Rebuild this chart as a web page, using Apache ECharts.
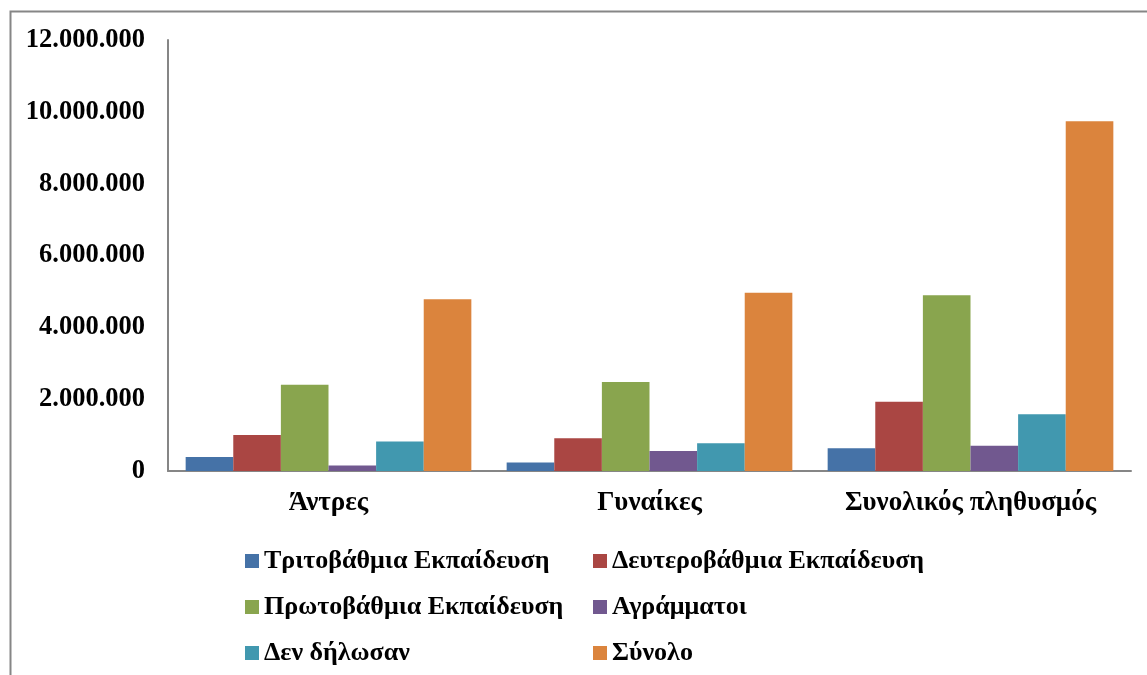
<!DOCTYPE html>
<html>
<head>
<meta charset="utf-8">
<script src="https://cdn.jsdelivr.net/npm/echarts@6/dist/echarts.min.js"></script>
<style>html,body{margin:0;padding:0;background:#fff}#c{width:1147px;height:675px}</style>
</head>
<body>
<div id="c"></div>
<script>
const categories = ['Άντρες', 'Γυναίκες', 'Συνολικός πληθυσμός'];
const seriesNames = ['Τριτοβάθμια Εκπαίδευση', 'Δευτεροβάθμια Εκπαίδευση', 'Πρωτοβάθμια Εκπαίδευση', 'Αγράμματοι', 'Δεν δήλωσαν', 'Σύνολο'];
const tritovathmia = [390000, 240000, 630000];
const defterovathmia = [1000000, 910000, 1930000];
const protovathmia = [2400000, 2480000, 4890000];
const agrammatoi = [150000, 560000, 700000];
const dendilosan = [820000, 770000, 1580000];
const synolo = [4780000, 4960000, 9740000];
const colors = ['#4572A7', '#AA4643', '#89A54E', '#71588F', '#4198AF', '#DB843D'];

const values = [tritovathmia, defterovathmia, protovathmia, agrammatoi, dendilosan, synolo];
const font = 'Liberation Serif';
function fmt(v) { return String(v).replace(/\B(?=(\d{3})+(?!\d))/g, '.'); }

const legendText = { fontFamily: font, fontWeight: 'bold', fontSize: 26, color: '#000' };
const chart = echarts.init(document.getElementById('c'));
chart.setOption({
  animation: false,
  color: colors,
  graphic: [{
    type: 'rect', left: 8, top: 9, silent: true,
    shape: { width: 1200, height: 700 },
    style: { fill: 'none', stroke: '#868686', lineWidth: 2 }
  }],
  grid: { left: 168, top: 40, right: 16, bottom: 204 },
  legend: [
    {
      orient: 'vertical', left: 240, top: 543, itemWidth: 14, itemHeight: 14, itemGap: 20,
      icon: 'rect',
      data: [seriesNames[0], seriesNames[2], seriesNames[4]],
      textStyle: legendText
    },
    {
      orient: 'vertical', left: 588, top: 543, itemWidth: 14, itemHeight: 14, itemGap: 20,
      icon: 'rect',
      data: [seriesNames[1], seriesNames[3], seriesNames[5]],
      textStyle: legendText
    }
  ],
  xAxis: {
    type: 'category', data: categories,
    axisLine: { lineStyle: { color: '#868686', width: 2 } },
    axisTick: { show: false },
    axisLabel: { interval: 0, fontFamily: font, fontWeight: 'bold', fontSize: 27, color: '#000', margin: 19 }
  },
  yAxis: {
    type: 'value', min: 0, max: 12000000, interval: 2000000,
    axisLine: { show: true, lineStyle: { color: '#868686', width: 2 } },
    axisTick: { show: false },
    splitLine: { show: false },
    axisLabel: { fontFamily: font, fontWeight: 'bold', fontSize: 26.5, color: '#000', margin: 23, formatter: fmt }
  },
  series: seriesNames.map((n, i) => ({
    name: n, type: 'bar', data: values[i],
    barGap: '0%', barCategoryGap: '11%',
    itemStyle: { color: colors[i] }
  }))
});
</script>
</body>
</html>
